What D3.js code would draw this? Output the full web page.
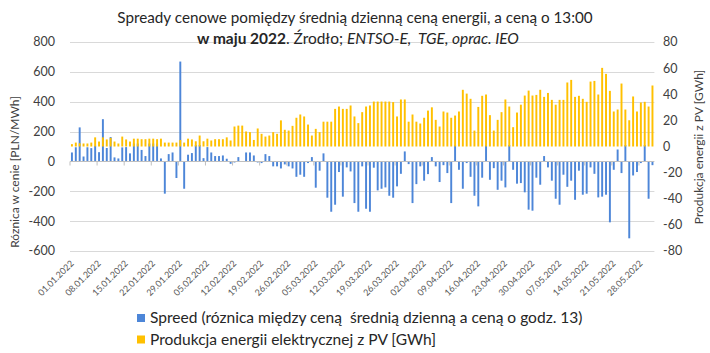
<!DOCTYPE html>
<html>
<head>
<meta charset="utf-8">
<script src="https://cdnjs.cloudflare.com/ajax/libs/d3/7.8.5/d3.min.js"></script>
<style>
  body { margin: 0; background: #fff; }
  svg { display: block; font-family: Lato, "Open Sans", sans-serif; }
</style>
</head>
<body>
<div id="chart"></div>
<script>
// daily values, 01.01.2022 - 31.05.2022
const spread = [
  60, 95, 228, 33, 95, 89, 105, 62, 283, 90, 163, 27, 20, 94, 96, 54, 120, 120, 77, 36,
  120, 120, 120, 20, -216, 49, 60, -111, 669, -183, 45, 56, 110, 110, 22, 96, 60, 36, 36, 40,
  18, -16, -7, 29, 2, 60, 60, 40, -7, -11, 49, 36, -33, -33, -47, -20, -33, -47, -103, -89,
  -103, -11, 29, -176, -62, 54, -243, -337, -290, -71, -236, -40, -67, -279, -337, -33, -317, -337, -42, -194,
  -183, -174, -230, -243, -167, -83, 67, -18, -279, -152, -33, -129, -85, 29, -33, -138, -25, -78, -279, 110,
  -56, -183, -11, -103, -230, -301, -109, 110, -123, -45, -190, -129, -174, 110, -56, -149, -145, -207, -323, -330,
  -109, -156, 36, -40, -129, -250, -290, -89, -170, -129, -257, -62, -223, -216, -40, -83, -241, -236, -223, -408,
  -56, 80, -78, 110, -515, -94, -71, -11, 110, -250, -25
];

const pv = [
  1.8, 3, 2.5, 2.3, 2.3, 3, 7, 3.8, 7, 5.4, 6.6, 3.8, 2.3, 7.6, 5.4, 3.8, 6, 6, 5.6, 5.6,
  6, 6, 5.6, 6, 3, 3, 3, 3, 5, 3, 6, 5.4, 4, 8.4, 4, 6, 4.6, 5.6, 5.6, 5.6,
  7, 4.6, 15.3, 16, 16, 11.5, 11, 5, 13.8, 9.7, 7.6, 8.4, 11, 9.7, 20, 12.8, 12.2, 15.8, 22, 24.5,
  23, 16.8, 8.4, 13.5, 11, 19, 19, 19, 28.8, 30.6, 28.8, 28.8, 31.4, 23, 17.9, 26.3, 30.6, 31.4, 34.4, 34.4,
  34.4, 34.4, 34.4, 34, 23, 36, 36, 19, 24.5, 19, 17.6, 22, 27.5, 30, 20.4, 15.3, 26.8, 26, 22, 23.7,
  26.8, 43.4, 40.5, 36.5, 12.2, 30.3, 38.8, 39.8, 24, 12.2, 20.4, 26.3, 36, 30.6, 14.8, 26, 32, 39, 42.8, 39,
  39.5, 43.4, 38, 41, 35.7, 32, 35.7, 35.7, 49, 51, 38, 38.8, 36.5, 34.2, 49.7, 50.2, 39.8, 60.2, 55.6, 42.6,
  26.8, 28.3, 48.2, 28.3, 20.1, 38.3, 26.8, 33.7, 34.2, 30.6, 46.7
];

const leftTicks = [-600, -400, -200, 0, 200, 400, 600, 800];
const rightTicks = [-80, -60, -40, -20, 0, 20, 40, 60, 80];

const titleLine1 = "Spready cenowe pomiędzy średnią dzienną ceną energii, a ceną o 13:00";
const legendNames = ["Spreed (róznica między ceną  średnią dzienną a ceną o godz. 13)",
                     "Produkcja energii elektrycznej z PV [GWh]"];
const colors = ["#4d86d8", "#ffc000"];

// categories = every day from 1 jan to 31 may
const days = d3.timeDay.range(new Date(2022, 0, 1), new Date(2022, 5, 1));
const fmt = d3.timeFormat("%d.%m.%Y");

const W = 710, H = 353;
const plot = { left: 70, right: 654.4, top: 42, bottom: 251 };

const svg = d3.select("#chart").append("svg")
  .attr("width", W)
  .attr("height", H);

const x = d3.scaleBand()
  .domain(days.map(fmt))
  .range([plot.left, plot.right])
  .paddingInner(0.5)
  .paddingOuter(0.25);

const yL = d3.scaleLinear().domain([-600, 800]).range([plot.bottom, plot.top]);
const yR = d3.scaleLinear().domain([-80, 80]).range([plot.bottom, plot.top]);

// shrink/grow a text element until it is the width seen in the picture
function fitWidth(sel, w) {
  const node = sel.node();
  let fs = parseFloat(sel.attr("font-size"));
  for (let k = 0; k < 3; k++) {
    const len = node.getComputedTextLength();
    fs = fs * w / len;
    sel.attr("font-size", fs);
  }
}

// gridlines (left axis)
svg.append("g")
  .selectAll("line")
  .data(leftTicks.filter(d => d !== 0))
  .join("line")
    .attr("x1", plot.left)
    .attr("x2", plot.right)
    .attr("y1", d => Math.round(yL(d)) + 0.5)
    .attr("y2", d => Math.round(yL(d)) + 0.5)
    .attr("stroke", "#d9d9d9")
    .attr("stroke-width", 1);

// spread bars go first, pv bars on top (secondary axis in excel)
svg.append("g")
  .selectAll("rect")
  .data(spread)
  .join("rect")
    .attr("x", (d, i) => x(fmt(days[i])))
    .attr("width", x.bandwidth())
    .attr("y", d => Math.min(yL(d), yL(0)))
    .attr("height", d => Math.abs(yL(d) - yL(0)))
    .attr("fill", colors[0]);

svg.append("g")
  .selectAll("rect")
  .data(pv)
  .join("rect")
    .attr("x", (d, i) => x(fmt(days[i])))
    .attr("width", x.bandwidth())
    .attr("y", d => yR(d))
    .attr("height", d => yR(0) - yR(d))
    .attr("fill", colors[1]);

// category axis sits on the 0 of the left axis
const y0 = Math.round(yL(0)) + 0.5;
svg.append("line")
  .attr("x1", plot.left).attr("x2", plot.right)
  .attr("y1", y0).attr("y2", y0)
  .attr("stroke", "#bfbfbf");

const step = x.step();
svg.append("g")
  .selectAll("line")
  .data(d3.range(0, days.length + 1, 7))
  .join("line")
    .attr("x1", d => plot.left + d * step)
    .attr("x2", d => plot.left + d * step)
    .attr("y1", y0)
    .attr("y2", y0 + 4)
    .attr("stroke", "#bfbfbf");

// date labels, one every week, at the bottom of the plot
svg.append("g")
  .selectAll("text")
  .data(days.filter((d, i) => i % 7 === 0))
  .join("text")
    .attr("transform", d => `translate(${x(fmt(d)) + x.bandwidth() / 2 + 2.4},264) rotate(-45)`)
    .attr("text-anchor", "end")
    .attr("font-size", 9)
    .attr("fill", "#595959")
    .text(d => fmt(d));

// left axis labels
svg.append("g")
  .selectAll("text")
  .data(leftTicks)
  .join("text")
    .attr("x", 55)
    .attr("y", d => yL(d))
    .attr("dy", "0.35em")
    .attr("text-anchor", "end")
    .attr("font-size", 12.5)
    .attr("fill", "#404040")
    .text(d => d);

// right axis labels
svg.append("g")
  .selectAll("text")
  .data(rightTicks)
  .join("text")
    .attr("x", 663)
    .attr("y", d => yR(d))
    .attr("dy", "0.35em")
    .attr("font-size", 12.5)
    .attr("fill", "#404040")
    .text(d => d);

// axis titles
svg.append("text")
  .attr("transform", "translate(19,172) rotate(-90)")
  .attr("text-anchor", "middle")
  .attr("font-size", 12)
  .attr("fill", "#404040")
  .text("Róznica w cenie [PLN/MWh]");

svg.append("text")
  .attr("transform", "translate(703,147) rotate(-90)")
  .attr("text-anchor", "middle")
  .attr("font-size", 12)
  .attr("fill", "#404040")
  .text("Produkcja energii z PV [GWh]");

// title, two lines
const t1 = svg.append("text")
  .attr("x", 355).attr("y", 23)
  .attr("text-anchor", "middle")
  .attr("font-size", 15)
  .attr("fill", "#262626")
  .text(titleLine1);
fitWidth(t1, 475);

const t2 = svg.append("text")
  .attr("x", 358).attr("y", 44)
  .attr("text-anchor", "middle")
  .attr("font-size", 15)
  .attr("fill", "#262626");
t2.append("tspan").attr("font-weight", "bold").text("w maju 2022");
t2.append("tspan").text(". Źrodło; ");
t2.append("tspan").attr("font-style", "italic").text("ENTSO-E,  TGE, oprac. IEO");
t2.attr("xml:space", "preserve");
fitWidth(t2, 322);

// legend
const legend = svg.append("g")
  .selectAll("g")
  .data(legendNames)
  .join("g")
    .attr("transform", (d, i) => `translate(137,${314 + i * 21.5})`);

legend.append("rect")
  .attr("width", 8)
  .attr("height", 8)
  .attr("fill", (d, i) => colors[i]);

legend.append("text")
  .attr("x", 13)
  .attr("y", 9)
  .attr("font-size", 15)
  .attr("fill", "#262626")
  .attr("xml:space", "preserve")
  .text(d => d);
fitWidth(legend.select("text").filter((d, i) => i === 0), 433);
legend.selectAll("text").attr("font-size", legend.select("text").attr("font-size"));
</script>
</body>
</html>
